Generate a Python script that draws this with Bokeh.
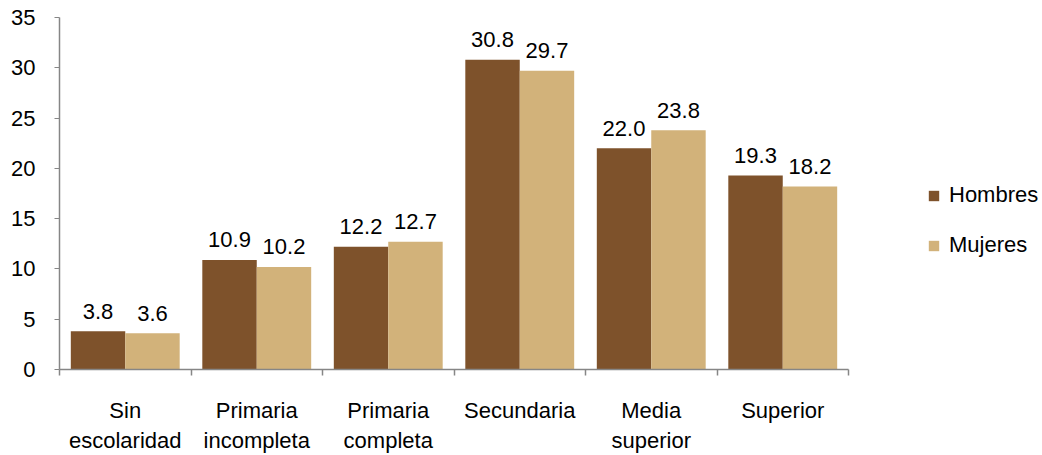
from bokeh.plotting import figure
from bokeh.models import (ColumnDataSource, Range1d, FixedTicker, Legend, LegendItem, LinearAxis)
from bokeh.transform import dodge
from bokeh.core.properties import value
from bokeh.embed import file_html
from bokeh.resources import INLINE

categories = ["Sin\nescolaridad", "Primaria\nincompleta", "Primaria\ncompleta", "Secundaria", "Media\nsuperior", "Superior"]
hombres = [3.8, 10.9, 12.2, 30.8, 22.0, 19.3]
mujeres = [3.6, 10.2, 12.7, 29.7, 23.8, 18.2]
y_ticks = [0, 5, 10, 15, 20, 25, 30, 35]

C_H = "#7E522B"
C_M = "#D2B27A"
FONT = "Liberation Sans"
FS = "22px"

W, H = 1042, 455
LEFT, TOP, BOTTOM = 59, 17, 84
AXIS_END_PX = 848  # where the category axis ends
n = len(categories)
x_end = n * (W - LEFT) / (AXIS_END_PX - LEFT)

centers = [i + 0.5 for i in range(n)]
src = ColumnDataSource(dict(
    x=centers, h=hombres, m=mujeres,
    hl=[f"{v:.1f}" for v in hombres], ml=[f"{v:.1f}" for v in mujeres],
))

p = figure(width=W, height=H, output_backend="svg", toolbar_location=None,
           x_range=Range1d(0, x_end), y_range=Range1d(0, 35),
           min_border_left=LEFT, min_border_right=0, min_border_top=TOP, min_border_bottom=BOTTOM,
           x_axis_location=None, y_axis_location=None)
p.outline_line_color = None
p.grid.visible = False
p.background_fill_color = "white"
p.border_fill_color = "white"

bw = 0.414
rh = p.vbar(x=dodge("x", -bw / 2, range=p.x_range), top="h", width=bw, bottom=0,
            fill_color=C_H, line_color=None, source=src)
rm = p.vbar(x=dodge("x", bw / 2, range=p.x_range), top="m", width=bw, bottom=0,
            fill_color=C_M, line_color=None, source=src)

for col, lab, off in (("h", "hl", -bw / 2), ("m", "ml", bw / 2)):
    p.text(x=dodge("x", off, range=p.x_range), y=col, text=lab, source=src,
           text_align="center", text_baseline="alphabetic", y_offset=-20,
           text_font=value(FONT), text_font_size=FS, text_color="black")

AX = "#868686"
yax = LinearAxis(ticker=FixedTicker(ticks=y_ticks, minor_ticks=[]))
yax.axis_line_color = AX
yax.axis_line_width = 1.5
yax.major_tick_line_color = AX
yax.major_tick_in = 0
yax.major_tick_out = 5
yax.major_label_standoff = 19
yax.major_label_text_font = FONT
yax.major_label_text_font_size = FS
yax.major_label_text_color = "black"
p.add_layout(yax, "left")

xax = LinearAxis(ticker=FixedTicker(ticks=centers, minor_ticks=list(range(n + 1))),
                 bounds=(0, n))
xax.major_label_overrides = {c: lab for c, lab in zip(centers, categories)}
xax.axis_line_color = AX
xax.axis_line_width = 1.5
xax.major_tick_line_color = None
xax.major_tick_in = 0
xax.major_tick_out = 0
xax.minor_tick_line_color = AX
xax.minor_tick_line_width = 1.5
xax.minor_tick_in = 0
xax.minor_tick_out = 6
xax.major_label_standoff = 22
xax.major_label_text_font = FONT
xax.major_label_text_font_size = FS
xax.major_label_text_color = "black"
p.add_layout(xax, "below")

legend = Legend(items=[LegendItem(label="Hombres", renderers=[rh]),
                       LegendItem(label="Mujeres", renderers=[rm])],
                location=(868, 111), orientation="vertical")
legend.border_line_color = None
legend.background_fill_alpha = 0
legend.padding = 0
legend.margin = 0
legend.glyph_width = 13
legend.glyph_height = 13
legend.label_height = 20
legend.spacing = 24
legend.label_standoff = 9
legend.label_text_font = FONT
legend.label_text_font_size = FS
legend.label_text_color = "black"
p.add_layout(legend, "center")

open("out.html", "w").write(file_html(p, INLINE))
